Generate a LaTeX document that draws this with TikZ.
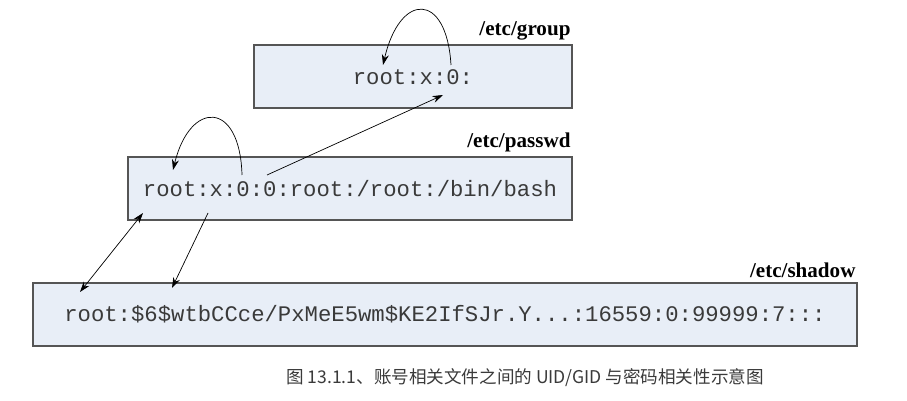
\documentclass[tikz,border=0pt]{standalone}
\usepackage{fontspec}
\setmainfont{Liberation Serif}
\newfontfamily\monofont{Liberation Mono}
\newfontfamily\cjk{Noto Sans CJK SC}
\usetikzlibrary{arrows.meta,positioning}
\definecolor{boxfill}{HTML}{E8EEF7}
\definecolor{boxline}{HTML}{555555}
\definecolor{txtgray}{HTML}{3A3A3A}
\begin{document}
\begin{tikzpicture}[->,>={Stealth[length=9pt,width=6pt]},semithick]
  \tikzstyle{file}=[draw=boxline,fill=boxfill,line width=1pt,rectangle]
  \tikzstyle{line}=[font=\monofont\fontsize{19}{21}\selectfont,text=txtgray]
  \tikzstyle{fname}=[font=\bfseries\fontsize{18}{20}\selectfont,anchor=south east,inner sep=1pt]

  \useasboundingbox (0,0) rectangle (27.21,12);

  \draw[file,-] (7.62,8.76) rectangle (17.16,10.65);
  \draw[file,-] (3.84,5.40) rectangle (17.16,7.29);
  \draw[file,-] (0.99,1.62) rectangle (25.71,3.51);

  \node[fname] (G) at (17.16,10.75) {/etc/group};
  \node[fname] (P) at (17.16,7.39) {/etc/passwd};
  \node[fname] (S) at (25.71,3.61) {/etc/shadow};

  \node[line] (g) at (12.39,9.70) {root:x:0:};
  \node[line] (p) at (10.50,6.34) {root:x:0:0:root:/root:/bin/bash};
  \node[line] (s) at (13.35,2.56) {root:\$6\$wtbCCce/PxMeE5wm\$KE2IfSJr.Y...:16559:0:99999:7:::};

  \node[font=\cjk\fontsize{15}{17}\selectfont,text=txtgray] (cap) at (15.75,0.66)
    {图 13.1.1、账号相关文件之间的 UID/GID 与密码相关性示意图};

  % anchor points on the text lines
  \coordinate (g0) at (13.53,10.05);
  \coordinate (gr) at (11.49,10.05);
  \coordinate (gb) at (13.29,9.15);
  \coordinate (p0) at (7.26,6.75);
  \coordinate (pr) at (5.19,6.90);
  \coordinate (p1) at (8.01,6.75);
  \coordinate (pa) at (4.29,5.61);
  \coordinate (pb) at (6.24,5.61);
  \coordinate (sa) at (2.40,3.24);
  \coordinate (sb) at (5.16,3.36);

  \draw (g0) .. controls (13.4,12.25) and (12.0,12.25) .. (gr);
  \draw (p0) .. controls (7.2,9.0) and (5.7,9.0) .. (pr);
  \draw (p1) -- (gb);
  \draw[<->] (sa) -- (pa);
  \draw (pb) -- (sb);
\end{tikzpicture}
\end{document}
